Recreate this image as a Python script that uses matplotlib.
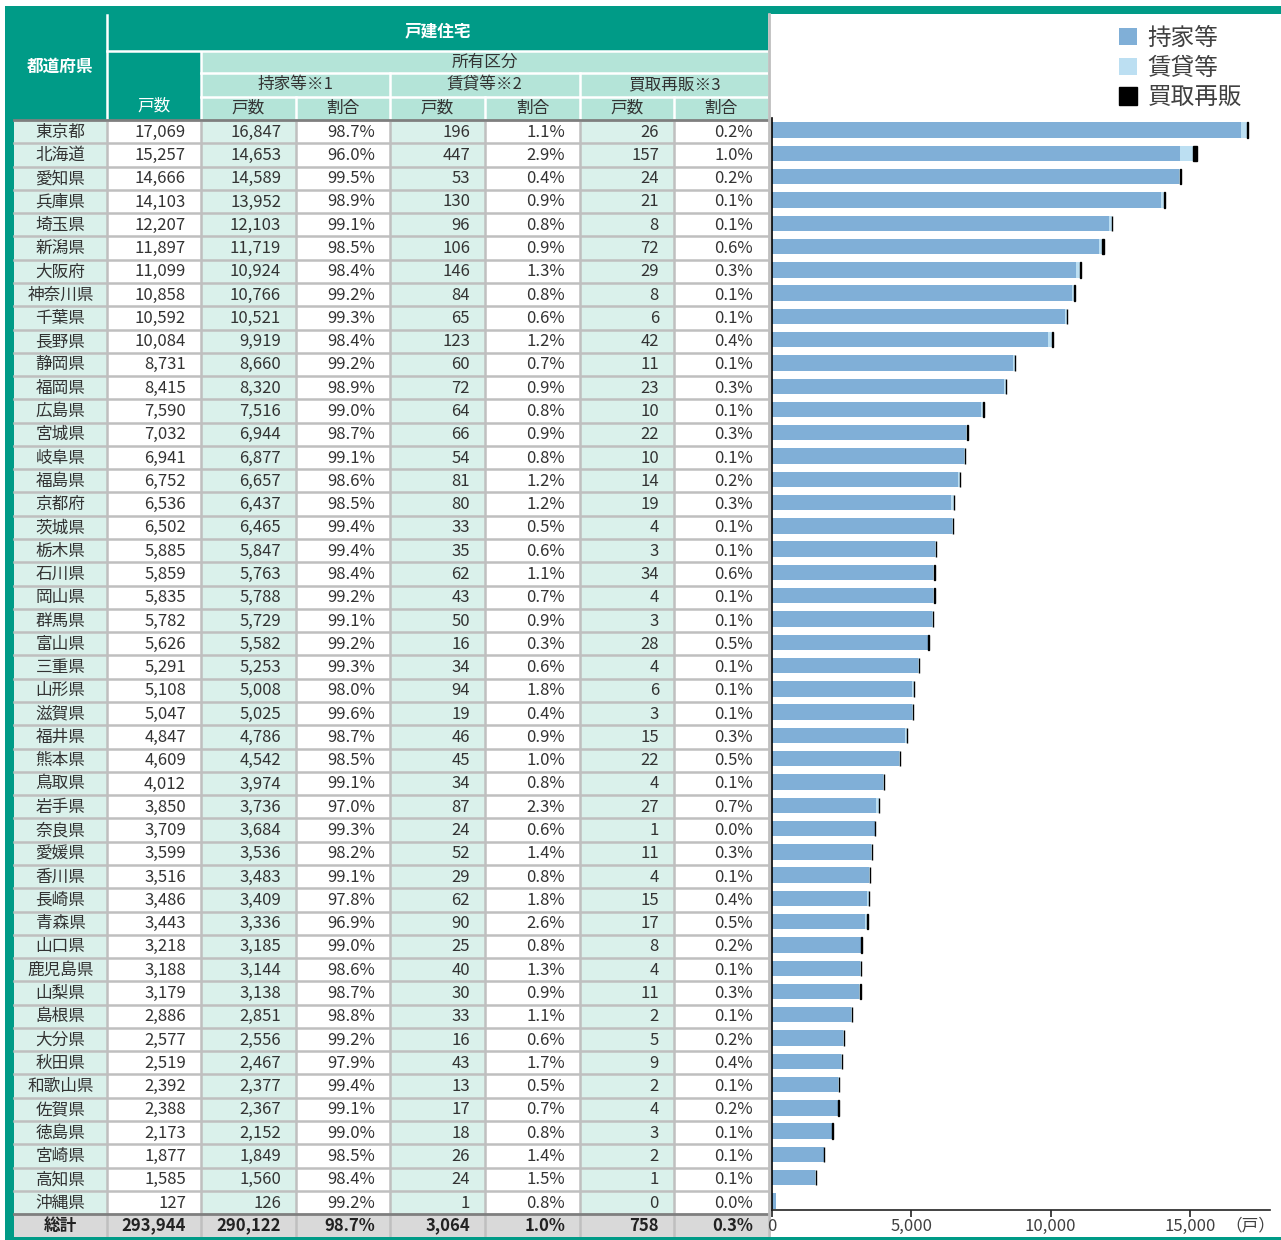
import numpy as np
import matplotlib
matplotlib.use("Agg")
import matplotlib.pyplot as plt
from matplotlib.patches import Rectangle

plt.rcParams['font.family'] = ['Noto Sans CJK JP', 'DejaVu Sans']

prefectures = ["東京都", "北海道", "愛知県", "兵庫県", "埼玉県", "新潟県", "大阪府", "神奈川県", "千葉県", "長野県",
               "静岡県", "福岡県", "広島県", "宮城県", "岐阜県", "福島県", "京都府", "茨城県", "栃木県", "石川県",
               "岡山県", "群馬県", "富山県", "三重県", "山形県", "滋賀県", "福井県", "熊本県", "鳥取県", "岩手県",
               "奈良県", "愛媛県", "香川県", "長崎県", "青森県", "山口県", "鹿児島県", "山梨県", "島根県", "大分県",
               "秋田県", "和歌山県", "佐賀県", "徳島県", "宮崎県", "高知県", "沖縄県"]
total = [17069, 15257, 14666, 14103, 12207, 11897, 11099, 10858, 10592, 10084,
         8731, 8415, 7590, 7032, 6941, 6752, 6536, 6502, 5885, 5859,
         5835, 5782, 5626, 5291, 5108, 5047, 4847, 4609, 4012, 3850,
         3709, 3599, 3516, 3486, 3443, 3218, 3188, 3179, 2886, 2577,
         2519, 2392, 2388, 2173, 1877, 1585, 127]
owned = [16847, 14653, 14589, 13952, 12103, 11719, 10924, 10766, 10521, 9919,
         8660, 8320, 7516, 6944, 6877, 6657, 6437, 6465, 5847, 5763,
         5788, 5729, 5582, 5253, 5008, 5025, 4786, 4542, 3974, 3736,
         3684, 3536, 3483, 3409, 3336, 3185, 3144, 3138, 2851, 2556,
         2467, 2377, 2367, 2152, 1849, 1560, 126]
owned_pct = [98.7, 96.0, 99.5, 98.9, 99.1, 98.5, 98.4, 99.2, 99.3, 98.4,
             99.2, 98.9, 99.0, 98.7, 99.1, 98.6, 98.5, 99.4, 99.4, 98.4,
             99.2, 99.1, 99.2, 99.3, 98.0, 99.6, 98.7, 98.5, 99.1, 97.0,
             99.3, 98.2, 99.1, 97.8, 96.9, 99.0, 98.6, 98.7, 98.8, 99.2,
             97.9, 99.4, 99.1, 99.0, 98.5, 98.4, 99.2]
rent = [196, 447, 53, 130, 96, 106, 146, 84, 65, 123,
        60, 72, 64, 66, 54, 81, 80, 33, 35, 62,
        43, 50, 16, 34, 94, 19, 46, 45, 34, 87,
        24, 52, 29, 62, 90, 25, 40, 30, 33, 16,
        43, 13, 17, 18, 26, 24, 1]
rent_pct = [1.1, 2.9, 0.4, 0.9, 0.8, 0.9, 1.3, 0.8, 0.6, 1.2,
            0.7, 0.9, 0.8, 0.9, 0.8, 1.2, 1.2, 0.5, 0.6, 1.1,
            0.7, 0.9, 0.3, 0.6, 1.8, 0.4, 0.9, 1.0, 0.8, 2.3,
            0.6, 1.4, 0.8, 1.8, 2.6, 0.8, 1.3, 0.9, 1.1, 0.6,
            1.7, 0.5, 0.7, 0.8, 1.4, 1.5, 0.8]
resale = [26, 157, 24, 21, 8, 72, 29, 8, 6, 42,
          11, 23, 10, 22, 10, 14, 19, 4, 3, 34,
          4, 3, 28, 4, 6, 3, 15, 22, 4, 27,
          1, 11, 4, 15, 17, 8, 4, 11, 2, 5,
          9, 2, 4, 3, 2, 1, 0]
resale_pct = [0.2, 1.0, 0.2, 0.1, 0.1, 0.6, 0.3, 0.1, 0.1, 0.4,
              0.1, 0.3, 0.1, 0.3, 0.1, 0.2, 0.3, 0.1, 0.1, 0.6,
              0.1, 0.1, 0.5, 0.1, 0.1, 0.1, 0.3, 0.5, 0.1, 0.7,
              0.0, 0.3, 0.1, 0.4, 0.5, 0.2, 0.1, 0.3, 0.1, 0.2,
              0.4, 0.1, 0.2, 0.1, 0.1, 0.1, 0.0]
total_row = ["総計", "293,944", "290,122", "98.7%", "3,064", "1.0%", "758", "0.3%"]
series_labels = ["持家等", "賃貸等", "買取再販"]
x_ticks = [0, 5000, 10000, 15000]

TEAL = "#009B87"
HEAD_LIGHT = "#B4E4D8"
MINT = "#DAF1EB"
GRID = "#BFBFBF"
TOTAL_BG = "#D9D9D9"
TXT = "#333333"
C_OWN = "#80AFD7"
C_RENT = "#BCDFF2"
C_RES = "#000000"

W, H = 1281, 1240
fig = plt.figure(figsize=(W / 100, H / 100), dpi=100)
fig.patch.set_facecolor("white")

ax = fig.add_axes([0, 0, 1, 1])
ax.set_xlim(0, W)
ax.set_ylim(H, 0)
ax.axis("off")

cols = [14, 107, 201, 296, 390, 485, 580, 674, 768]
data_top = 120.0
n = len(prefectures)
rh = 23.28
total_top = data_top + n * rh
total_bot = 1237


def rect(x0, y0, x1, y1, color, z=1):
    ax.add_patch(Rectangle((x0, y0), x1 - x0, y1 - y0, facecolor=color, edgecolor="none", zorder=z))


# teal frame
rect(5, 6, W, 14, TEAL)
rect(5, 6, 14, H, TEAL)
rect(5, 1237, W, H, TEAL)
# header
rect(14, 14, 768, 120, TEAL)
rect(201, 52, 768, 120, HEAD_LIGHT)

# white separators in header
wlw = 1.8
ax.plot([107, 107], [15, 120], color="white", lw=wlw, zorder=3)
ax.plot([107, 768], [50.5, 50.5], color="white", lw=wlw, zorder=3)
ax.plot([201, 768], [72.5, 72.5], color="white", lw=wlw, zorder=3)
ax.plot([201, 768], [96.5, 96.5], color="white", lw=wlw, zorder=3)
ax.plot([201, 201], [52, 120], color="white", lw=wlw, zorder=3)
for xc in [390, 580]:
    ax.plot([xc, xc], [73, 120], color="white", lw=wlw, zorder=3)
for xc in [296, 485, 674]:
    ax.plot([xc, xc], [97, 120], color="white", lw=wlw, zorder=3)

hfs = 12
ax.text(437.5, 31, "戸建住宅", color="white", fontsize=hfs, fontweight="bold", ha="center", va="center", zorder=4)
ax.text(60, 67, "都道府県", color="white", fontsize=hfs, fontweight="bold", ha="center", va="center", zorder=4)
ax.text(154, 106, "戸数", color="white", fontsize=hfs, ha="center", va="center", zorder=4)
ax.text(484.5, 62, "所有区分", color=TXT, fontsize=hfs, ha="center", va="center", zorder=4)
ax.text(295.5, 84.5, "持家等※1", color=TXT, fontsize=hfs, ha="center", va="center", zorder=4)
ax.text(485, 84.5, "賃貸等※2", color=TXT, fontsize=hfs, ha="center", va="center", zorder=4)
ax.text(674, 84.5, "買取再販※3", color=TXT, fontsize=hfs, ha="center", va="center", zorder=4)
for i in range(6):
    x0, x1 = cols[2 + i], cols[3 + i]
    ax.text((x0 + x1) / 2, 108, "戸数" if i % 2 == 0 else "割合", color=TXT, fontsize=hfs,
            ha="center", va="center", zorder=4)

# data cells backgrounds
col_colors = [MINT, "white", MINT, "white", MINT, "white", MINT, "white"]
for j in range(8):
    rect(cols[j], data_top, cols[j + 1], total_top, col_colors[j])
rect(14, total_top, 768, total_bot, TOTAL_BG)

# grid lines
glw = 1.8
for i in range(1, n):
    y = data_top + i * rh
    ax.plot([14, 768], [y, y], color=GRID, lw=glw, zorder=2)
for xc in cols[1:-1]:
    ax.plot([xc, xc], [data_top, total_bot], color=GRID, lw=glw, zorder=2)
ax.plot([14, 768], [data_top, data_top], color="#7F7F7F", lw=2.0, zorder=3)
ax.plot([14, 768], [total_top, total_top], color="#7F7F7F", lw=2.0, zorder=3)
ax.plot([768.5, 768.5], [14, total_bot], color=GRID, lw=2.0, zorder=3)

dfs = 12
pad = 15


def fmt_int(v):
    return f"{v:,}"


for i in range(n):
    yc = data_top + (i + 0.5) * rh + 0.5
    vals = [fmt_int(total[i]), fmt_int(owned[i]), f"{owned_pct[i]:.1f}%",
            fmt_int(rent[i]), f"{rent_pct[i]:.1f}%", fmt_int(resale[i]), f"{resale_pct[i]:.1f}%"]
    ax.text((cols[0] + cols[1]) / 2, yc, prefectures[i], color=TXT, fontsize=dfs,
            ha="center", va="center", zorder=4)
    for j, v in enumerate(vals):
        ax.text(cols[j + 2] - pad, yc, v, color=TXT, fontsize=dfs, ha="right", va="center", zorder=4)

yc = (total_top + total_bot) / 2
ax.text((cols[0] + cols[1]) / 2, yc, total_row[0], color="#222222", fontsize=dfs, fontweight="bold",
        ha="center", va="center", zorder=4)
for j, v in enumerate(total_row[1:]):
    ax.text(cols[j + 2] - pad, yc, v, color="#222222", fontsize=dfs, fontweight="bold",
            ha="right", va="center", zorder=4)

# ---- bar chart ----
x0p, x1p = 772, 1270
y0p, y1p = 118, 1210
bx = fig.add_axes([x0p / W, 1 - y1p / H, (x1p - x0p) / W, (y1p - y0p) / H])
bx.patch.set_alpha(0)
owned_a = np.array(owned)
rent_a = np.array(rent)
res_a = np.array(resale)
ypos = np.arange(n)
bh = 0.66
b1 = bx.barh(ypos, owned_a, height=bh, color=C_OWN, label=series_labels[0])
b2 = bx.barh(ypos, rent_a, left=owned_a, height=bh, color=C_RENT, label=series_labels[1])
lws = [1.0 if r > 0 else 0 for r in resale]
b3 = bx.barh(ypos, res_a, left=owned_a + rent_a, height=bh, color=C_RES, edgecolor=C_RES,
             linewidth=lws, label=series_labels[2])
xmax = (x1p - x0p) / (1190 - 772) * 15000
bx.set_xlim(0, xmax)
top_val = (y0p - (data_top + 0.5 * rh - 1.5)) / rh
bot_val = (y1p - (data_top + 0.5 * rh - 1.5)) / rh
bx.set_ylim(bot_val, top_val)
for s in ["top", "right"]:
    bx.spines[s].set_visible(False)
bx.spines["left"].set_color("black")
bx.spines["bottom"].set_color("#222222")
bx.spines["left"].set_linewidth(1.2)
bx.spines["bottom"].set_linewidth(1.2)
bx.set_yticks([])
bx.set_xticks(x_ticks)
bx.set_xticklabels([f"{t:,}" for t in x_ticks])
bx.tick_params(axis="x", direction="out", length=5, width=1.2, color="#222222",
               labelsize=12, labelcolor="#404040", pad=1)
fig.text(1250 / W, 1 - 1226 / H, "（戸）", fontsize=12, color="#404040", ha="center", va="center")

leg = fig.legend(handles=[b1, b2, b3], labels=series_labels, loc="upper left",
                 bbox_to_anchor=(1119 / W, 1 - 27 / H), frameon=False, fontsize=17,
                 handlelength=0.75, handleheight=0.75, handletextpad=0.45, labelspacing=0.28,
                 borderpad=0, borderaxespad=0)
for t in leg.get_texts():
    t.set_color("#404040")

# overlay teal bottom
ov = fig.add_axes([0, 0, 1, 1], zorder=10)
ov.set_xlim(0, W)
ov.set_ylim(H, 0)
ov.axis("off")
ov.patch.set_alpha(0)
ov.add_patch(Rectangle((5, 1237), W - 5, 3, facecolor=TEAL, edgecolor="none"))

fig.savefig("out.png", dpi=100)
